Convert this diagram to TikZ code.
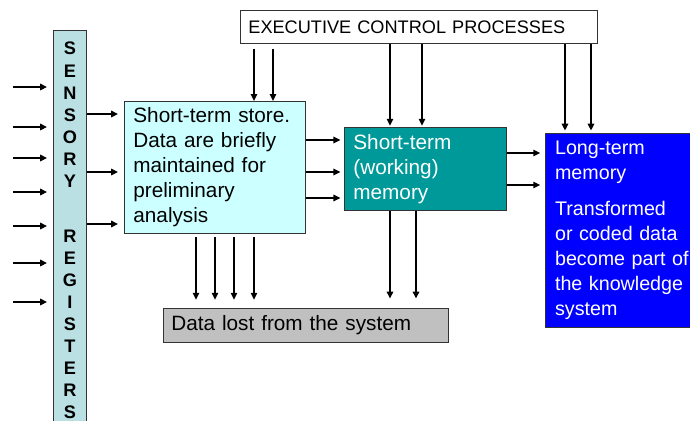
\documentclass[tikz,border=0pt]{standalone}
\usepackage{fontspec}
\setmainfont{Liberation Sans}
\usepackage{tikz}
\usetikzlibrary{arrows.meta}
\tikzset{>/.tip={Triangle[length=0.21cm,width=0.19cm]}}
\definecolor{sensfill}{RGB}{187,224,228}
\definecolor{stsfill}{RGB}{204,255,255}
\definecolor{wmfill}{RGB}{0,153,153}
\definecolor{ltmfill}{RGB}{0,0,255}
\definecolor{lostfill}{RGB}{192,192,192}
\tikzset{
  box/.style={draw=black!80, line width=0.7pt, anchor=north west, align=left, inner ysep=0pt},
  arr/.style={->, line width=1.5pt},
}
\newcommand{\bodyfont}{\fontsize{17.7}{21.3}\selectfont}

\begin{document}
\begin{tikzpicture}[x=0.03cm, y=-0.03cm]
\clip (0,0) rectangle (690,421);

% boxes
\node[box, fill=sensfill, align=center, inner sep=0pt, minimum width=0.99cm, minimum height=12cm,
      font=\bfseries\fontsize{15.5}{18.8}\selectfont] (sens) at (53,30)
  {S\\E\\N\\S\\O\\R\\Y\\[0.99cm]R\\E\\G\\I\\S\\T\\E\\R\\S};
\node[box, fill=white, text width=10.23cm, inner xsep=0.24cm, minimum height=0.99cm,
      font=\fontsize{15.5}{18}\selectfont] (exec) at (240,10) {EXECUTIVE CONTROL PROCESSES};
\node[box, fill=stsfill, text width=4.89cm, inner xsep=0.27cm, minimum height=3.96cm, font=\bodyfont] (sts) at (124,101)
  {Short-term store.\\Data are briefly\\maintained for\\preliminary\\analysis};
\node[box, fill=wmfill, text=white, text width=4.32cm, inner xsep=0.27cm, minimum height=2.49cm, font=\bodyfont] (wm) at (344,127)
  {Short-term\\(working)\\memory};
\node[box, fill=ltmfill, text=white, text width=4.5cm, inner xsep=0.29cm, minimum height=5.82cm,
      font=\fontsize{16.8}{21.3}\selectfont] (ltm) at (545,133)
  {Long-term\\memory\\[0.33cm]Transformed\\or coded data\\become part of\\the knowledge\\system};
\node[box, fill=lostfill, text width=8.07cm, inner xsep=0.24cm, minimum height=1.02cm, font=\bodyfont] (lost) at (163,308)
  {Data lost from the system};

% incoming stimuli
\coordinate (in1) at (13,87);
\coordinate (in2) at (13,127);
\coordinate (in3) at (13,158);
\coordinate (in4) at (13,192);
\coordinate (in5) at (13,226);
\coordinate (in6) at (13,263);
\coordinate (in7) at (13,302);
\draw[arr, shorten >=5pt] (in1) -- (in1 -| sens.west);
\draw[arr, shorten >=5pt] (in2) -- (in2 -| sens.west);
\draw[arr, shorten >=5pt] (in3) -- (in3 -| sens.west);
\draw[arr, shorten >=5pt] (in4) -- (in4 -| sens.west);
\draw[arr, shorten >=5pt] (in5) -- (in5 -| sens.west);
\draw[arr, shorten >=5pt] (in6) -- (in6 -| sens.west);
\draw[arr, shorten >=5pt] (in7) -- (in7 -| sens.west);

% registers -> short-term store
\draw[arr, shorten >=5pt] (sens.east |- 0,114) -- (sts.west |- 0,114);
\draw[arr, shorten >=5pt] (sens.east |- 0,172) -- (sts.west |- 0,172);
\draw[arr, shorten >=5pt] (sens.east |- 0,224) -- (sts.west |- 0,224);

% executive control
\draw[arr, shorten <=4pt] (254,0 |- exec.south) -- (254,0 |- sts.north);
\draw[arr, shorten <=4pt] (273,0 |- exec.south) -- (273,0 |- sts.north);
\draw[arr, shorten >=1pt] (390,0 |- exec.south) -- (390,0 |- wm.north);
\draw[arr, shorten >=1pt] (422,0 |- exec.south) -- (422,0 |- wm.north);
\draw[arr, shorten >=2pt] (565,0 |- exec.south) -- (565,0 |- ltm.north);
\draw[arr, shorten >=2pt] (591,0 |- exec.south) -- (591,0 |- ltm.north);

% store -> working memory -> long-term memory
\draw[arr, shorten >=3pt] (sts.east |- 0,140) -- (wm.west |- 0,140);
\draw[arr, shorten >=3pt] (sts.east |- 0,172) -- (wm.west |- 0,172);
\draw[arr, shorten >=3pt] (sts.east |- 0,198) -- (wm.west |- 0,198);
\draw[arr, shorten >=4pt] (wm.east |- 0,153) -- (ltm.west |- 0,153);
\draw[arr, shorten >=4pt] (wm.east |- 0,185) -- (ltm.west |- 0,185);

% losses
\draw[arr, shorten <=3pt, shorten >=7pt] (196,0 |- sts.south) -- (196,0 |- lost.north);
\draw[arr, shorten <=3pt, shorten >=7pt] (215,0 |- sts.south) -- (215,0 |- lost.north);
\draw[arr, shorten <=3pt, shorten >=7pt] (234,0 |- sts.south) -- (234,0 |- lost.north);
\draw[arr, shorten <=3pt, shorten >=7pt] (254,0 |- sts.south) -- (254,0 |- lost.north);
\draw[arr, shorten >=8pt] (390,0 |- wm.south) -- (390,0 |- lost.north);
\draw[arr, shorten >=8pt] (416,0 |- wm.south) -- (416,0 |- lost.north);
\end{tikzpicture}
\end{document}
